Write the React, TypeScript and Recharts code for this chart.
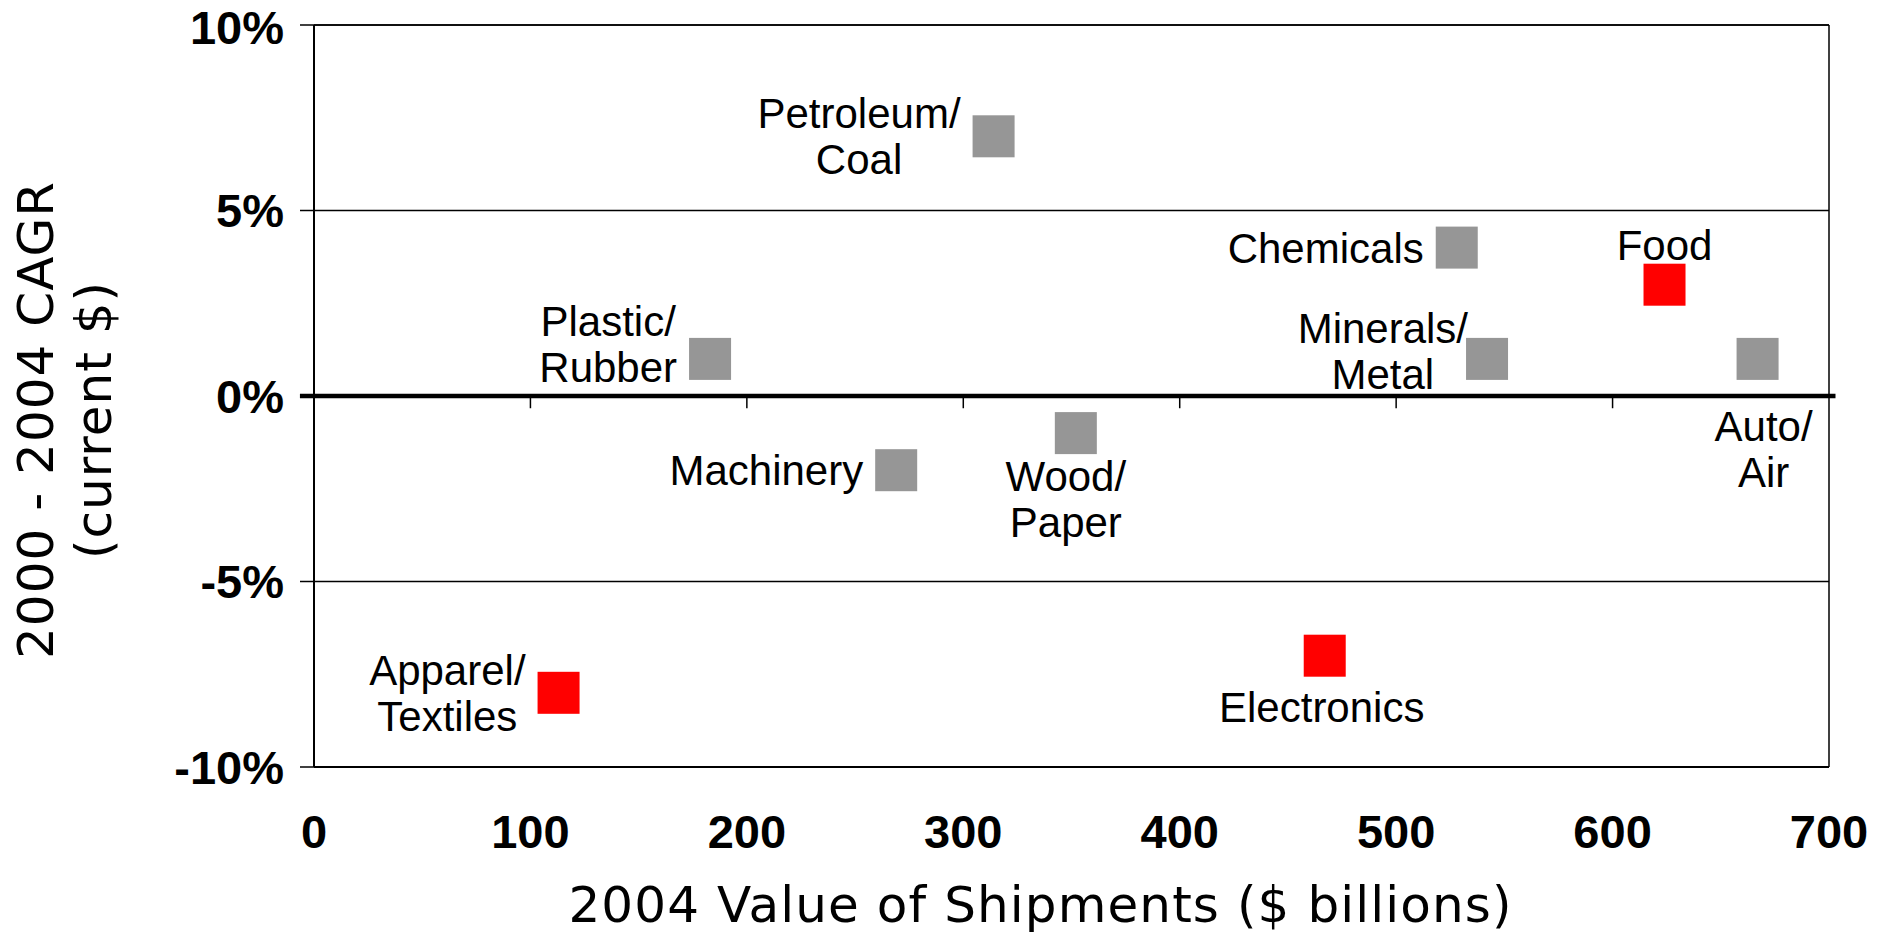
import { ScatterChart, Scatter, XAxis, YAxis, CartesianGrid, ReferenceLine } from 'recharts';

const SECTORS = [
  'Petroleum/Coal',
  'Chemicals',
  'Food',
  'Plastic/Rubber',
  'Minerals/Metal',
  'Auto/Air',
  'Machinery',
  'Wood/Paper',
  'Apparel/Textiles',
  'Electronics',
];
const SHIPMENTS = [314, 528, 624, 183, 542, 667, 269, 352, 113, 467];
const CAGR = [7, 4, 3, 1, 1, 1, -2, -1, -8, -7];
const HIGHLIGHTED = ['Food', 'Electronics', 'Apparel/Textiles'];

const X_TICKS = [0, 100, 200, 300, 400, 500, 600, 700];
const Y_TICKS = [-10, -5, 0, 5, 10];

const X_TITLE = '2004 Value of Shipments ($ billions)';
const Y_TITLE = ['2000 - 2004 CAGR', '(current $)'];

const LABEL_SIDE: Record<string, 'left' | 'above' | 'below'> = {
  'Petroleum/Coal': 'left',
  Chemicals: 'left',
  Food: 'above',
  'Plastic/Rubber': 'left',
  'Minerals/Metal': 'left',
  'Auto/Air': 'below',
  Machinery: 'left',
  'Wood/Paper': 'below',
  'Apparel/Textiles': 'left',
  Electronics: 'below',
};

// small hand nudges, like the original's dragged labels
const LABEL_NUDGE: Record<string, [number, number]> = {
  'Plastic/Rubber': [0, -15],
  'Minerals/Metal': [14, -8],
  'Wood/Paper': [-10, -2],
  'Auto/Air': [6, 22],
  Electronics: [-3, 6],
};

const points = SECTORS.map((name, i) => ({
  name,
  x: SHIPMENTS[i],
  y: CAGR[i],
}));
const redPoints = points.filter((p) => HIGHLIGHTED.includes(p.name));
const grayPoints = points.filter((p) => !HIGHLIGHTED.includes(p.name));

const LABEL_FONT = '"Liberation Sans", Arial, sans-serif';
const LABEL_SIZE = 42;
const LINE_GAP = 46;
const TITLE_FONT = '"DejaVu Sans", Verdana, sans-serif';

let ctx: CanvasRenderingContext2D | null = null;
const textWidth = (s: string) => {
  if (!ctx) ctx = document.createElement('canvas').getContext('2d');
  if (!ctx) return s.length * LABEL_SIZE * 0.5;
  ctx.font = `${LABEL_SIZE}px "Liberation Sans"`;
  return ctx.measureText(s).width;
};

const splitName = (name: string) => {
  const i = name.indexOf('/');
  return i < 0 ? [name] : [name.slice(0, i + 1), name.slice(i + 1)];
};

const makeMarker = (color: string) => (props: any) => {
  const { cx, cy, payload } = props;
  const half = 21;
  const lines = splitName(payload.name);
  const side = LABEL_SIDE[payload.name];
  const [nx, ny] = LABEL_NUDGE[payload.name] ?? [0, 0];
  let lx = cx;
  let ys: number[] = [];
  if (side === 'left') {
    const w = Math.max(...lines.map(textWidth));
    lx = cx - half - 12 - w / 2;
    ys = lines.length === 1 ? [cy] : [cy - LINE_GAP / 2, cy + LINE_GAP / 2];
  } else if (side === 'above') {
    ys = [cy - half - 19];
  } else {
    ys = lines.map((_, i) => cy + half + 24 + i * LINE_GAP);
  }
  return (
    <g>
      <rect x={cx - half} y={cy - half} width={half * 2} height={half * 2} fill={color} />
      <text
        textAnchor="middle"
        dominantBaseline="central"
        fontFamily={LABEL_FONT}
        fontSize={LABEL_SIZE}
        fill="#000"
      >
        {lines.map((t, i) => (
          <tspan key={t} x={lx + nx} y={ys[i] + ny}>
            {t}
          </tspan>
        ))}
      </text>
    </g>
  );
};

const XTitle = ({ viewBox }: any) => (
  <text
    x={viewBox.x + viewBox.width / 2 - 31}
    y={viewBox.y + 138}
    textAnchor="middle"
    dominantBaseline="central"
    fontFamily={TITLE_FONT}
    fontSize={50}
    letterSpacing={1.1}
    fill="#000"
  >
    {X_TITLE}
  </text>
);

const YTitle = ({ viewBox }: any) => {
  const cy = viewBox.y + viewBox.height / 2 + 24;
  return (
    <g>
      {Y_TITLE.map((t, i) => {
        const cx = viewBox.x - 158 + i * 58;
        return (
          <text
            key={t}
            x={cx}
            y={cy}
            transform={`rotate(-90, ${cx}, ${cy})`}
            textAnchor="middle"
            dominantBaseline="central"
            fontFamily={TITLE_FONT}
            fontSize={50}
            letterSpacing={1}
            fill="#000"
          >
            {t}
          </text>
        );
      })}
    </g>
  );
};

const tickStyle = {
  fill: '#000',
  fontSize: 47,
  fontWeight: 700,
  fontFamily: LABEL_FONT,
};

export default function App() {
  return (
    <div style={{ position: 'absolute', left: 0, top: 0, background: '#fff' }}>
      <ScatterChart width={1888} height={937} margin={{ top: 25, right: 59, bottom: 70, left: 194 }}>
        <CartesianGrid vertical={false} stroke="#000" strokeWidth={1.5} />
        <XAxis
          type="number"
          dataKey="x"
          domain={[0, 700]}
          ticks={X_TICKS}
          height={100}
          axisLine={{ stroke: '#000', strokeWidth: 2 }}
          tickLine={false}
          tickSize={0}
          tickMargin={48}
          tick={tickStyle}
          label={{ content: <XTitle /> }}
        />
        <YAxis
          type="number"
          dataKey="y"
          domain={[-10, 10]}
          ticks={Y_TICKS}
          width={120}
          axisLine={{ stroke: '#000', strokeWidth: 2 }}
          tickLine={{ stroke: '#000', strokeWidth: 1.5 }}
          tickSize={14}
          tickMargin={16}
          tick={tickStyle}
          tickFormatter={(v) => `${v}%`}
          label={{ content: <YTitle /> }}
        />
        <ReferenceLine y={10} stroke="#000" strokeWidth={1.5} />
        <ReferenceLine x={700} stroke="#000" strokeWidth={1.5} />
        <ReferenceLine
          segment={[{ x: -6.5, y: 0 }, { x: 703, y: 0 }]}
          ifOverflow="visible"
          stroke="#000"
          strokeWidth={4.5}
        />
        {X_TICKS.slice(1, -1).map((t) => (
          <ReferenceLine
            key={t}
            segment={[{ x: t, y: 0 }, { x: t, y: -0.33 }]}
            stroke="#000"
            strokeWidth={1.5}
          />
        ))}
        <Scatter data={grayPoints} shape={makeMarker('#969696')} isAnimationActive={false} />
        <Scatter data={redPoints} shape={makeMarker('#FF0000')} isAnimationActive={false} />
      </ScatterChart>
    </div>
  );
}
